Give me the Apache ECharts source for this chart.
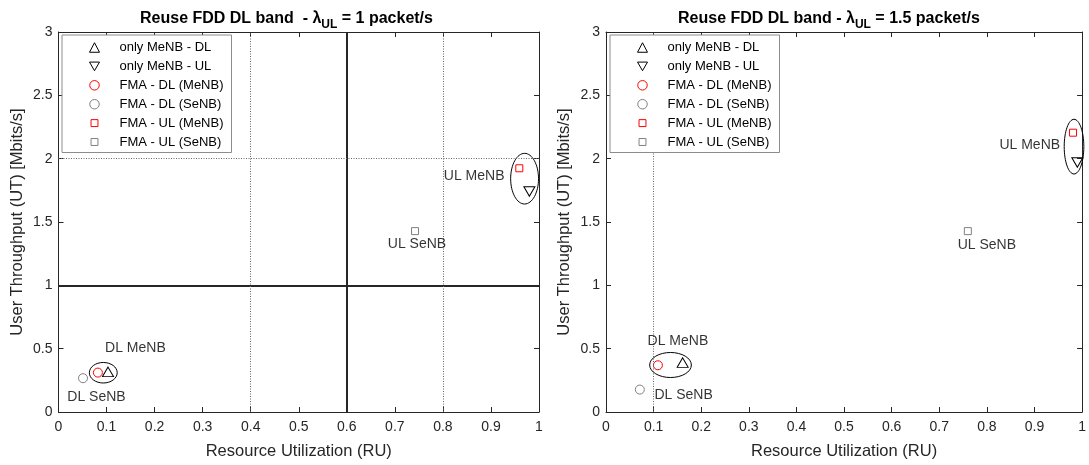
<!DOCTYPE html>
<html>
<head>
<meta charset="utf-8">
<script src="https://cdn.jsdelivr.net/npm/echarts@6/dist/echarts.min.js"></script>
<style>html,body{margin:0;padding:0;background:#fff}#c{width:1089px;height:465px}</style>
</head>
<body>
<div id="c"></div>
<script>
// ---- data ----
const seriesNames = ['only MeNB - DL', 'only MeNB - UL', 'FMA - DL (MeNB)', 'FMA - DL (SeNB)', 'FMA - UL (MeNB)', 'FMA - UL (SeNB)'];
// plot 1: lambda_UL = 1 packet/s   [RU, UT]
const p1OnlyDL = [[0.103, 0.317]];
const p1OnlyUL = [[0.980, 1.741]];
const p1FmaDLMe = [[0.082, 0.311]];
const p1FmaDLSe = [[0.051, 0.267]];
const p1FmaULMe = [[0.959, 1.924]];
const p1FmaULSe = [[0.742, 1.428]];
// plot 2: lambda_UL = 1.5 packet/s
const p2OnlyDL = [[0.161, 0.390]];
const p2OnlyUL = [[0.990, 1.970]];
const p2FmaDLMe = [[0.109, 0.369]];
const p2FmaDLSe = [[0.071, 0.177]];
const p2FmaULMe = [[0.981, 2.205]];
const p2FmaULSe = [[0.760, 1.428]];
// annotation ellipses [cx, cy, rx, ry] in data units
const p1Ellipses = [[0.0932, 0.310, 0.029, 0.081], [0.970, 1.842, 0.029, 0.200]];
const p2Ellipses = [[0.1355, 0.371, 0.0438, 0.0988], [0.983, 2.095, 0.0206, 0.216]];
// annotation texts [x, y, text]
const p1Notes = [[0.865, 1.863, 'UL MeNB'], [0.746, 1.326, 'UL SeNB'], [0.160, 0.504, 'DL MeNB'], [0.079, 0.116, 'DL SeNB']];
const p2Notes = [[0.890, 2.108, 'UL MeNB'], [0.800, 1.318, 'UL SeNB'], [0.151, 0.559, 'DL MeNB'], [0.163, 0.132, 'DL SeNB']];
// reference lines
const p1SolidX = [0.6], p1SolidY = [1];
const p1DotX = [0.4, 0.8], p1DotY = [2];
const p2DotX = [0.1], p2DotY = [];
// axes
const xMin = 0, xMax = 1, xStep = 0.1;
const yMin = 0, yMax = 3, yStep = 0.5;
const titles = [['Reuse FDD DL band  - \u03bb', 'UL', ' = 1 packet/s'], ['Reuse FDD DL band - \u03bb', 'UL', ' = 1.5 packet/s']];
const xName = 'Resource Utilization (RU)';
const yName = 'User Throughput (UT) [Mbits/s]';

// ---- styles ----
const FONT = 'Liberation Sans, Arial, sans-serif';
const AX = '#262626';
const markerStyles = [
  {symbol: 'triangle', symbolSize: [11, 9.5], symbolRotate: 0, color: '#000', icon: 'triangle'},
  {symbol: 'triangle', symbolSize: [11, 9.5], symbolRotate: 180, color: '#000', icon: 'path://M0,0L11,0L5.5,9.5Z'},
  {symbol: 'circle', symbolSize: 9, symbolRotate: 0, color: '#ff0000', icon: 'circle'},
  {symbol: 'circle', symbolSize: 9, symbolRotate: 0, color: '#808080', icon: 'circle'},
  {symbol: 'rect', symbolSize: 7, symbolRotate: 0, color: '#ff0000', icon: 'path://M-1.3,-1.3M8.3,8.3M0,0L7,0L7,7L0,7Z'},
  {symbol: 'rect', symbolSize: 7, symbolRotate: 0, color: '#808080', icon: 'path://M-1.3,-1.3M8.3,8.3M0,0L7,0L7,7L0,7Z'}
];
const grids = [
  {left: 58.5, right: 550, top: 32, bottom: 53},
  {left: 606, right: 3.3, top: 32, bottom: 53}
];

const xAxes = [], yAxes = [];
grids.forEach((g, gi) => {
  const base = {
    gridIndex: gi, type: 'value', min: xMin, max: xMax, interval: xStep,
    axisLine: {show: true, onZero: false, lineStyle: {color: AX, width: 1}},
    axisTick: {show: true, inside: true, length: 5, lineStyle: {color: AX}},
    splitLine: {show: false}
  };
  xAxes.push(Object.assign({}, base, {
    position: 'bottom', name: xName, nameLocation: 'middle', nameGap: 31,
    nameTextStyle: {fontFamily: FONT, fontSize: 16.5, color: AX},
    axisLabel: {show: true, margin: 8, fontFamily: FONT, fontSize: 14, color: AX}
  }));
  xAxes.push(Object.assign({}, base, {position: 'top', axisLabel: {show: false}}));
  const ybase = Object.assign({}, base, {min: yMin, max: yMax, interval: yStep});
  yAxes.push(Object.assign({}, ybase, {
    position: 'left', name: yName, nameLocation: 'middle', nameGap: 33,
    nameTextStyle: {fontFamily: FONT, fontSize: 16.5, color: AX},
    axisLabel: {show: true, margin: 6, fontFamily: FONT, fontSize: 14, color: AX}
  }));
  yAxes.push(Object.assign({}, ybase, {position: 'right', axisLabel: {show: false}}));
});

function markLines(solidX, solidY, dotX, dotY) {
  const d = [];
  const solid = {color: AX, width: 2, type: 'solid'};
  const dot = {color: '#666', width: 1, type: [1, 1.5]};
  solidX.forEach(v => d.push({xAxis: v, lineStyle: solid}));
  solidY.forEach(v => d.push({yAxis: v, lineStyle: solid}));
  dotX.forEach(v => d.push({xAxis: v, lineStyle: dot}));
  dotY.forEach(v => d.push({yAxis: v, lineStyle: dot}));
  return {silent: true, symbol: 'none', label: {show: false}, animation: false, data: d};
}

const series = [];
const plotData = [
  [p1OnlyDL, p1OnlyUL, p1FmaDLMe, p1FmaDLSe, p1FmaULMe, p1FmaULSe],
  [p2OnlyDL, p2OnlyUL, p2FmaDLMe, p2FmaDLSe, p2FmaULMe, p2FmaULSe]
];
const plotEllipses = [p1Ellipses, p2Ellipses];
const plotNotes = [p1Notes, p2Notes];
const plotLines = [[p1SolidX, p1SolidY, p1DotX, p1DotY], [[], [], p2DotX, p2DotY]];

plotData.forEach((arrs, gi) => {
  series.push({
    type: 'scatter', name: '_lines' + gi, xAxisIndex: gi * 2, yAxisIndex: gi * 2,
    data: [], markLine: markLines(...plotLines[gi]), z: 1
  });
  arrs.forEach((arr, si) => {
    const m = markerStyles[si];
    series.push({
      type: 'scatter', name: seriesNames[si], xAxisIndex: gi * 2, yAxisIndex: gi * 2,
      symbol: m.symbol, symbolSize: m.symbolSize, symbolRotate: m.symbolRotate,
      itemStyle: {color: 'rgba(0,0,0,0)', borderColor: m.color, borderWidth: 1, opacity: 1},
      emphasis: {disabled: true}, data: arr, z: 3
    });
  });
  series.push({
    type: 'custom', name: '_ell' + gi, xAxisIndex: gi * 2, yAxisIndex: gi * 2,
    clip: false, silent: true, z: 4,
    data: plotEllipses[gi],
    renderItem: function (params, api) {
      const c = api.coord([api.value(0), api.value(1)]);
      const s = api.size([api.value(2), api.value(3)]);
      return {type: 'ellipse', shape: {cx: c[0], cy: c[1], rx: s[0], ry: s[1]},
        style: {fill: 'none', stroke: '#000', lineWidth: 1}};
    }
  });
  series.push({
    type: 'scatter', name: '_notes' + gi, xAxisIndex: gi * 2, yAxisIndex: gi * 2,
    symbolSize: 0, silent: true, z: 5,
    data: plotNotes[gi].map(n => ({value: [n[0], n[1]], name: n[2]})),
    label: {show: true, position: 'inside', formatter: '{b}', color: '#000', fontFamily: FONT, fontSize: 14}
  });
});

const legends = [62, 610].map(l => ({
  orient: 'vertical', left: l, top: 35,
  data: seriesNames.map((n, i) => ({name: n, icon: markerStyles[i].icon, symbolRotate: 0})),
  itemWidth: 10, itemHeight: 9.5, itemGap: 5.9,
  padding: [6, 8, 4, 27],
  backgroundColor: '#fff', borderColor: '#8c8c8c', borderWidth: 1,
  selectedMode: false,
  itemStyle: {borderWidth: 1},
  formatter: name => '{t|' + name + '}',
  textStyle: {
    fontFamily: FONT, fontSize: 13, color: '#000', lineHeight: 13,
    rich: {t: {fontFamily: FONT, fontSize: 13, color: '#000', lineHeight: 13, padding: [0, 0, 0, 15]}}
  },
  z: 10
}));

const titleOpts = titles.map((t, i) => ({
  left: i === 0 ? 135 : 673, top: 2,
  text: '{a|' + t[0] + '}{s|' + t[1] + '}{a|' + t[2] + '}',
  textStyle: {
    rich: {
      a: {fontFamily: FONT, fontSize: 16, fontWeight: 'bold', color: '#000', lineHeight: 24, verticalAlign: 'middle'},
      s: {fontFamily: FONT, fontSize: 12, fontWeight: 'bold', color: '#000', verticalAlign: 'bottom'}
    }
  }
}));

const chart = echarts.init(document.getElementById('c'), null, {renderer: 'canvas'});
chart.setOption({
  animation: false,
  backgroundColor: '#fff',
  title: titleOpts,
  legend: legends,
  grid: grids,
  xAxis: xAxes,
  yAxis: yAxes,
  series: series
});
</script>
</body>
</html>
